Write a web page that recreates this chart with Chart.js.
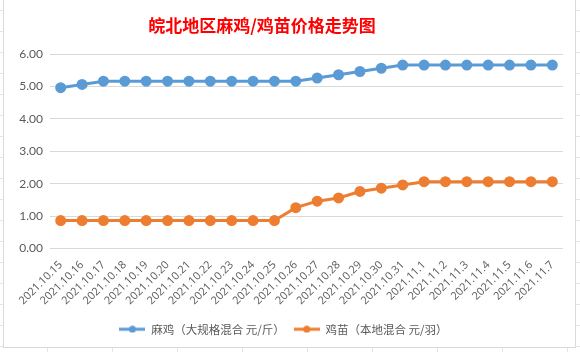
<!DOCTYPE html>
<html>
<head>
<meta charset="utf-8">
<script src="https://cdn.jsdelivr.net/npm/chart.js@4.4.0/dist/chart.umd.min.js"></script>
<style>
  html, body { margin: 0; padding: 0; }
  body {
    width: 580px; height: 352px; overflow: hidden; position: relative;
    background-color: #fff;
    background-image:
      linear-gradient(to right, #e4e4e4 1px, transparent 1px),
      linear-gradient(to bottom, #e4e4e4 1px, transparent 1px);
    background-size: 65px 21px;
    background-position: 47px 10px;
  }
  #box {
    position: absolute; left: 3px; top: -2px; width: 571px; height: 348px;
    background: #fff; border: 1px solid #d9d9d9;
  }
  #title {
    position: absolute; left: 0; top: 13px; width: 516px; text-align: center;
    font-family: "Noto Sans CJK SC", sans-serif; font-weight: bold; font-size: 17px;
    color: #f00;
  }
  #wrap { position: absolute; left: 0; top: 0; width: 571px; height: 348px; }
</style>
</head>
<body>
<div id="box">
  <div id="wrap"><canvas id="c"></canvas></div>
  <div id="title">皖北地区麻鸡/鸡苗价格走势图</div>
</div>
<script>
const categories = ["2021.10.15","2021.10.16","2021.10.17","2021.10.18","2021.10.19","2021.10.20","2021.10.21","2021.10.22","2021.10.23","2021.10.24","2021.10.25","2021.10.26","2021.10.27","2021.10.28","2021.10.29","2021.10.30","2021.10.31","2021.11.1","2021.11.2","2021.11.3","2021.11.4","2021.11.5","2021.11.6","2021.11.7"];
const maJi = [4.96,5.06,5.16,5.16,5.16,5.16,5.16,5.16,5.16,5.16,5.16,5.16,5.26,5.36,5.46,5.56,5.66,5.66,5.66,5.66,5.66,5.66,5.66,5.66];
const jiMiao = [0.86,0.86,0.86,0.86,0.86,0.86,0.86,0.86,0.86,0.86,0.86,1.26,1.46,1.56,1.76,1.86,1.96,2.06,2.06,2.06,2.06,2.06,2.06,2.06];
const seriesNames = ["麻鸡（大规格混合 元/斤）","鸡苗（本地混合 元/羽）"];
const yTicks = [0,1,2,3,4,5,6];

const BLUE = "#5b9bd5", ORANGE = "#ed7d31";
function legendIcon(color) {
  const cv = document.createElement("canvas");
  cv.width = 26; cv.height = 8;
  const g = cv.getContext("2d");
  g.strokeStyle = color; g.lineWidth = 3;
  g.beginPath(); g.moveTo(0, 4); g.lineTo(26, 4); g.stroke();
  g.fillStyle = color; g.beginPath(); g.arc(13, 4, 3.5, 0, Math.PI * 2); g.fill();
  return cv;
}
const icons = [legendIcon(BLUE), legendIcon(ORANGE)];

new Chart(document.getElementById("c"), {
  type: "line",
  data: {
    labels: categories,
    datasets: [
      { label: seriesNames[0], data: maJi, borderColor: BLUE, backgroundColor: BLUE,
        borderWidth: 3, pointRadius: 4, pointHoverRadius: 4, tension: 0 },
      { label: seriesNames[1], data: jiMiao, borderColor: ORANGE, backgroundColor: ORANGE,
        borderWidth: 3, pointRadius: 4, pointHoverRadius: 4, tension: 0 }
    ]
  },
  options: {
    responsive: true, maintainAspectRatio: false, animation: false,
    layout: { padding: { top: 55, right: 12, left: 0, bottom: 2 } },
    plugins: {
      title: { display: false },
      tooltip: { enabled: false },
      legend: {
        position: "bottom",
        labels: {
          usePointStyle: true, pointStyleWidth: 26, boxHeight: 8,
          color: "#595959", padding: 9,
          font: { family: "'Noto Sans CJK SC', sans-serif", size: 11.5 },
          generateLabels: (chart) => chart.data.datasets.map((ds, i) => ({
            text: ds.label, pointStyle: icons[i], fillStyle: ds.borderColor,
            strokeStyle: ds.borderColor, lineWidth: 0, hidden: false, datasetIndex: i,
            fontColor: "#595959"
          }))
        }
      }
    },
    scales: {
      x: {
        offset: true,
        grid: { display: false },
        border: { display: false },
        afterFit: (axis) => { axis.height += 5; },
        ticks: { color: "#595959", maxRotation: 45, minRotation: 45, autoSkip: false,
          padding: 2, font: { family: "'Open Sans', sans-serif", size: 11 } }
      },
      y: {
        min: 0, max: 6,
        afterBuildTicks: (axis) => { axis.ticks = yTicks.map(v => ({ value: v })); },
        afterFit: (axis) => { axis.width = 46; },
        grid: { color: "#d9d9d9", drawTicks: false },
        border: { display: false },
        ticks: { color: "#595959", padding: 7,
          font: { family: "Lato, sans-serif", size: 12 },
          callback: (v) => Number(v).toFixed(2) }
      }
    }
  }
});
</script>
</body>
</html>
